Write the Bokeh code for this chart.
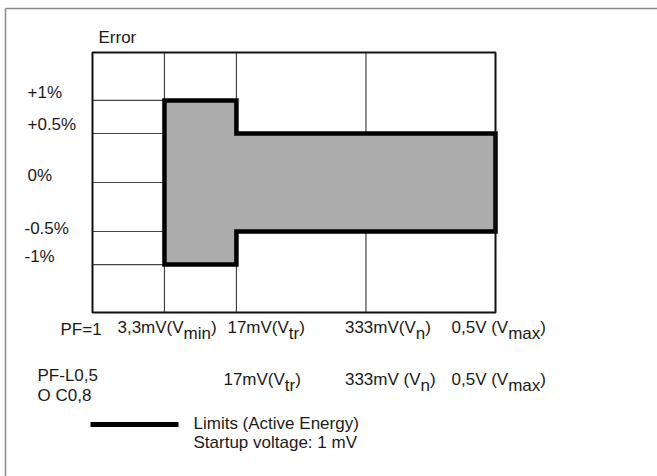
from bokeh.plotting import figure
from bokeh.models import Range1d
from bokeh.embed import file_html
from bokeh.resources import INLINE
from bokeh.core.properties import value

# ---------------- data ----------------
error_levels = [1.0, 0.5, 0.0, -0.5, -1.0]
error_labels = ["+1%", "+0.5%", "0%", "-0.5%", "-1%"]
level_pos = [0.837, 0.5, 0.0, -0.5, -0.837]       # schematic (non-linear) axis positions

voltage_names = ["V_min", "V_tr", "V_n", "V_max"]
voltage_pos = [1.0, 2.0, 3.8, 5.6]                 # schematic (non-linear) axis positions

row1_title = "PF=1"
row1_labels = [("3,3mV(V", "min", ")"), ("17mV(V", "tr", ")"),
               ("333mV(V", "n", ")"), ("0,5V (V", "max", ")")]
row2_title = ["PF-L0,5", "O C0,8"]
row2_labels = [None, ("17mV(V", "tr", ")"),
               ("333mV (V", "n", ")"), ("0,5V (V", "max", ")")]

# error limits: segment from -> to with +/- error
limit_from = ["V_min", "V_tr"]
limit_to = ["V_tr", "V_max"]
limit_error = [1.0, 0.5]

y_title = "Error"
legend_texts = ["Limits (Active Energy)", "Startup voltage: 1 mV"]

# ---------------- layout helpers ----------------
W, H = 657, 476
SX = 403 / 5.6          # px per x unit
SY = 98.0               # px per y unit
X0_PX, Y0_PX = 92, 182  # canvas px of x=0, y=0
TSHIFT = 5              # text raise (px)


def dx(px):
    return (px - X0_PX) / SX


def dy(py):
    return (Y0_PX - py) / SY


def ty(py):
    return dy(py - TSHIFT)


FONT = value("Liberation Sans")
FS = 17
CW = {c: 556 for c in "0123456789"}
CW.update({",": 278, ".": 278, "m": 833, "V": 667, "(": 333, ")": 333, " ": 278,
           "i": 222, "n": 556, "t": 278, "r": 333, "a": 556, "x": 500})


def tw(s):
    return sum(CW.get(c, 556) for c in s) * FS / 1000.0


vpos = dict(zip(voltage_names, voltage_pos))
epos = dict(zip(error_levels, level_pos))

p = figure(width=W, height=H, output_backend="svg", toolbar_location=None,
           x_range=Range1d(dx(0), dx(W)), y_range=Range1d(dy(H), dy(0)),
           x_axis_location=None, y_axis_location=None, min_border=0)
p.grid.visible = False
p.outline_line_color = None
p.background_fill_color = "white"

# outer frame (left and top edges visible)
p.segment(x0=[dx(5), dx(5)], y0=[dy(8), dy(8)], x1=[dx(5), dx(W)], y1=[dy(H), dy(8)],
          line_color="#8a8a8a", line_width=1.5)

box_top, box_bot = dy(52), dy(312)
box_left, box_right = 0.0, voltage_pos[-1]

# grid: horizontal lines in first column, vertical lines full height (under the limits area)
p.segment(x0=[box_left] * len(level_pos), x1=[voltage_pos[0]] * len(level_pos),
          y0=level_pos, y1=level_pos, line_color="#444444", line_width=1.2)
p.segment(x0=voltage_pos[:-1], x1=voltage_pos[:-1], y0=[box_bot] * 3, y1=[box_top] * 3,
          line_color="#444444", line_width=1.2)

# limits polygon
a, b, c = vpos[limit_from[0]], vpos[limit_to[0]], vpos[limit_to[1]]
e1, e2 = limit_error
px_ = [a, a, b, b, c, c, b, b]
py_ = [epos[-e1], epos[e1], epos[e1], epos[e2], epos[e2], epos[-e2], epos[-e2], epos[-e1]]
p.patch(px_, py_, fill_color="#acacac", line_color="black", line_width=4.5, line_join="miter")

# chart box
p.quad(left=[box_left], right=[box_right], bottom=[box_bot], top=[box_top],
       fill_color=None, line_color="#111111", line_width=2)

TXT = dict(text_font=FONT, text_font_size=f"{FS}px", text_baseline="alphabetic",
           text_align="left", text_color="#1a1a1a")

# y title & y labels
p.text(x=[dx(98)], y=[ty(42)], text=[y_title], **TXT)
ylab_x = [27, 27, 27, 24, 24]
ylab_base_off = [-3, -4, -2, 2, -3]
p.text(x=[dx(v) for v in ylab_x],
       y=[lp - (o - TSHIFT) / SY for lp, o in zip(level_pos, ylab_base_off)],
       text=error_labels, **TXT)


def draw_row(labels, offsets, base):
    xs, ys, ts = [], [], []
    for (lab, off, vp) in zip(labels, offsets, voltage_pos):
        if lab is None:
            continue
        pre, sub, post = lab
        x_start = vp + off / SX
        xs += [x_start, x_start + tw(pre) / SX, x_start + (tw(pre) + tw(sub)) / SX]
        ys += [ty(base), ty(base + 6), ty(base)]
        ts += [pre, sub, post]
    p.text(x=xs, y=ys, text=ts, **TXT)


draw_row(row1_labels, [-47, -9, -21, -44], 332)
draw_row(row2_labels, [0, -13, -21, -44], 384)
p.text(x=[dx(60)], y=[ty(334)], text=[row1_title], **TXT)
p.text(x=[dx(37), dx(37)], y=[ty(380), ty(400)], text=row2_title, **TXT)

# legend
p.line([dx(90), dx(178)], [dy(424), dy(424)], line_color="black", line_width=5)
p.text(x=[dx(193), dx(193)], y=[ty(428), ty(447)], text=legend_texts, **TXT)

open("out.html", "w").write(file_html(p, INLINE))
